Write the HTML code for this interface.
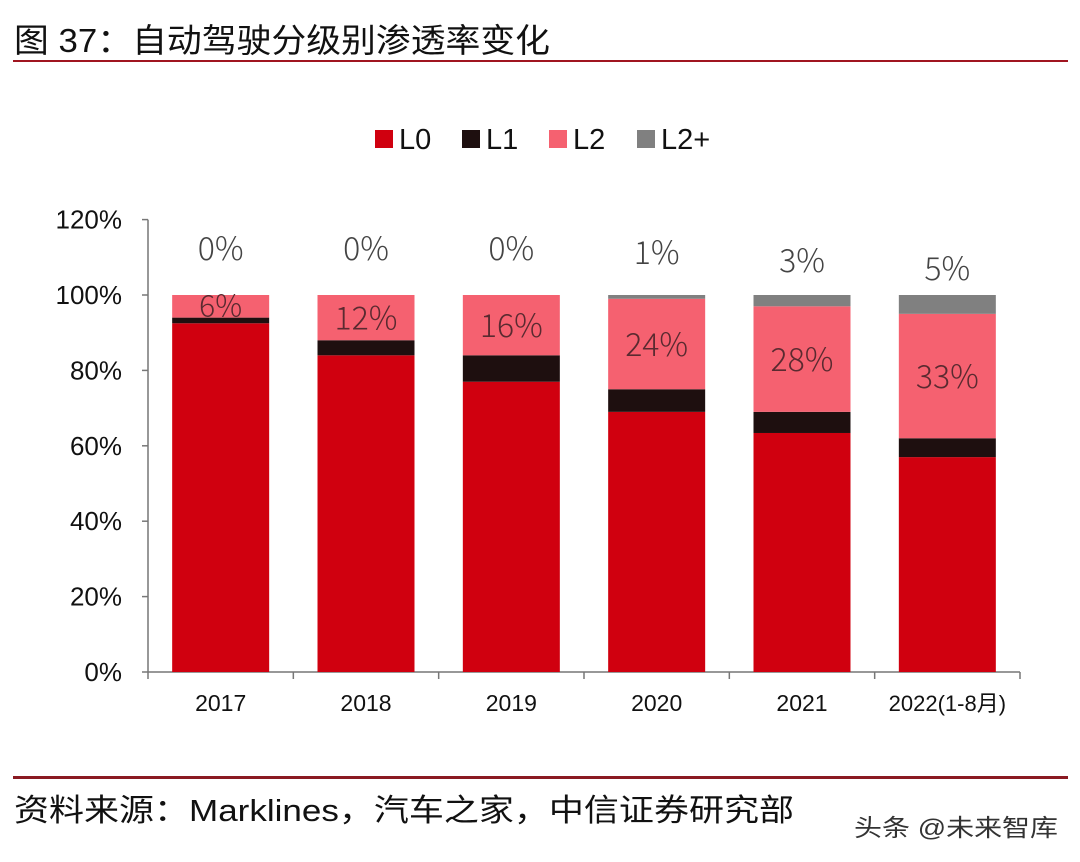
<!DOCTYPE html>
<html><head><meta charset="utf-8">
<style>
body{margin:0;background:#fff;width:1080px;height:862px;overflow:hidden;font-family:"Liberation Sans","Noto Sans CJK SC",sans-serif;}
svg{display:block}
</style></head>
<body>
<svg id="chart" width="1080" height="862">
<text x="14" y="52" font-size="33" fill="#111" textLength="536" lengthAdjust="spacingAndGlyphs">图 37：自动驾驶分级别渗透率变化</text>
<rect x="13" y="60" width="1055" height="2" fill="#a01520"/>
<rect x="13" y="776" width="1055" height="3" fill="#8a1a22"/>
<text x="14" y="821" font-size="31" fill="#111" textLength="780" lengthAdjust="spacingAndGlyphs">资料来源：Marklines，汽车之家，中信证券研究部</text>
<text x="854" y="836" font-size="24" fill="#333" textLength="204" lengthAdjust="spacingAndGlyphs">头条 @未来智库</text>
<g id="legend"></g>
<g id="axes"></g>
<g id="bars"></g>
<g id="labels"></g>
</svg>
<script>
const categories=["2017","2018","2019","2020","2021","2022(1-8月)"];
const l0=[92.5,84,77,69,63.4,57];
const l1=[1.5,4,7,6,5.6,5];
const l2=[6,12,16,24,28,33];
const l2p=[0,0,0,1,3,5];
const l2Labels=["6%","12%","16%","24%","28%","33%"];
const l2pLabels=["0%","0%","0%","1%","3%","5%"];
const yTicks=[0,20,40,60,80,100,120];
const seriesNames=["L0","L1","L2","L2+"];
const colors=["#d0000f","#1e0f0f","#f56170","#808080"];
const NS="http://www.w3.org/2000/svg";
const x0=148,x1=1020,yBase=672,yPer=3.77;
const y=v=>yBase-v*yPer;
const band=(x1-x0)/categories.length;
const xc=i=>x0+band*(i+0.5);
const bw=97;
function mk(tag,attrs,parent,txt){const e=document.createElementNS(NS,tag);for(const k in attrs)e.setAttribute(k,attrs[k]);if(txt!==undefined)e.textContent=txt;parent.appendChild(e);return e;}
const axes=document.getElementById('axes');
let e=mk('line',{x1:x0,y1:y(120),x2:x0,y2:yBase,stroke:'#777','stroke-width':1.5},axes);


e=mk('line',{x1:x0,y1:yBase,x2:x1,y2:yBase,stroke:'#777','stroke-width':1.5},axes);


yTicks.forEach(t=>{
  mk('line',{x1:x0-6,y1:y(t),x2:x0,y2:y(t),stroke:'#777','stroke-width':1.5},axes);
  const tl=mk('text',{x:x0-26,y:y(t)+9,'font-size':26,'text-anchor':'end',fill:'#111'},axes,t+'%');
  
  
});
for(let i=0;i<=categories.length;i++){mk('line',{x1:x0+band*i,y1:yBase,x2:x0+band*i,y2:yBase+7,stroke:'#777','stroke-width':1.5},axes);}
categories.forEach((c,i)=>{
  const tl=mk('text',{x:xc(i),y:711,'font-size':i==5?22:23,'text-anchor':'middle',fill:'#111'},axes,c);
  
  
});
const bars=document.getElementById('bars'),labels=document.getElementById('labels');
const series=[l0,l1,l2,l2p];
categories.forEach((c,i)=>{
  let acc=0;
  series.forEach((s,k)=>{
    const v=s[i];
    const r=mk('rect',{x:xc(i)-bw/2,y:y(acc+v),width:bw,height:v*yPer,fill:colors[k]},bars);
    
    
    if(k==2){
      const t=mk('text',{x:xc(i),y:y(acc+v/2)+12,'font-size':i==0?30:32,'text-anchor':'middle',fill:'#5a2a30','font-family':'"Noto Sans CJK SC",sans-serif','font-weight':300},labels,l2Labels[i]);
      if(i==0)t.setAttribute('y',y(acc+v/2)+10);
      
      
    }
    acc+=v;
  });
  const t=mk('text',{x:xc(i),y:y(100)-35+l2p[i]*4,'font-size':32,'text-anchor':'middle',fill:'#444','font-family':'"Noto Sans CJK SC",sans-serif','font-weight':300},labels,l2pLabels[i]);
  
  
});
const lg=document.getElementById('legend');
const lx=[375,462,549,637];
seriesNames.forEach((n,k)=>{
  const g=mk('g',{},lg);
  
  
  mk('rect',{x:lx[k],y:130,width:18,height:18,fill:colors[k]},g);
  mk('text',{x:lx[k]+24,y:149,'font-size':29,fill:'#111'},g,n);
});
</script>
</body></html>
